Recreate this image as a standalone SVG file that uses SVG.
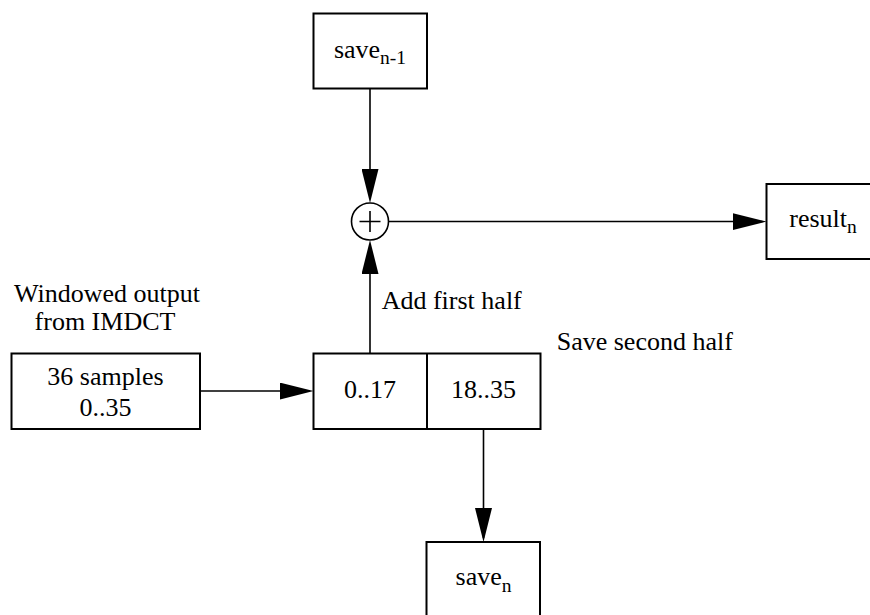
<svg xmlns="http://www.w3.org/2000/svg" width="870" height="615" viewBox="0 0 870 615">
  <style>
    .box { fill: #ffffff; stroke: #000000; stroke-width: 2; }
    .wire { fill: none; stroke: #000000; stroke-width: 1.6; }
    .lbl { font-size: 26px; fill: #000000; }
    .mid { text-anchor: middle; }
    .sub { font-size: 19.5px; }
  </style>
  <defs>
    <!-- filled arrowhead; the connector stops 4px short of the tip -->
    <marker id="head" markerUnits="userSpaceOnUse" markerWidth="34" markerHeight="17" refX="30" refY="8.5" orient="auto">
      <path d="M0,0 L34,8.5 L0,17 Z" fill="#000000"/>
    </marker>
  </defs>
  <rect width="870" height="615" fill="#ffffff"/>

  <g id="connectors">
    <line class="wire" x1="370" y1="88.5" x2="370" y2="199" marker-end="url(#head)"/>
    <line class="wire" x1="388.5" y1="221.5" x2="762.5" y2="221.5" marker-end="url(#head)"/>
    <line class="wire" x1="370" y1="353.5" x2="370" y2="244" marker-end="url(#head)"/>
    <line class="wire" x1="200" y1="391" x2="309.5" y2="391" marker-end="url(#head)"/>
    <line class="wire" x1="483.5" y1="429" x2="483.5" y2="538" marker-end="url(#head)"/>
  </g>

  <g font-family="'Liberation Serif', 'Times New Roman', Times, 'DejaVu Serif', serif">
    <g id="save-prev">
      <rect class="box" x="313.5" y="13.5" width="113.5" height="75"/>
      <text class="lbl mid" x="370" y="57.5">save<tspan class="sub" dy="6.5">n-1</tspan></text>
    </g>

    <g id="adder">
      <circle cx="370" cy="221.5" r="18.5" fill="#ffffff" stroke="#000000" stroke-width="1.6"/>
      <path d="M359.5,221.5 H380.5 M370,211 V232" stroke="#000000" stroke-width="1.6" fill="none"/>
    </g>

    <g id="result">
      <rect class="box" x="766.5" y="184" width="113.5" height="75"/>
      <text class="lbl mid" x="823" y="226.7">result<tspan class="sub" dy="6.5">n</tspan></text>
    </g>

    <g id="source">
      <text class="lbl mid" x="107" y="301.7">Windowed output</text>
      <text class="lbl mid" x="105" y="330">from IMDCT</text>
      <rect class="box" x="11.5" y="353.5" width="188.5" height="75.5"/>
      <text class="lbl mid" x="105.5" y="385">36 samples</text>
      <text class="lbl mid" x="105.5" y="416">0..35</text>
    </g>

    <g id="halves">
      <rect class="box" x="313.5" y="353.5" width="227" height="75.5"/>
      <line x1="427" y1="353.5" x2="427" y2="429" stroke="#000000" stroke-width="2"/>
      <text class="lbl mid" x="370" y="398.3">0..17</text>
      <text class="lbl mid" x="483.5" y="398.3">18..35</text>
    </g>

    <g id="labels">
      <text class="lbl" x="381.7" y="309.3">Add first half</text>
      <text class="lbl" x="556.7" y="350">Save second half</text>
    </g>

    <g id="save-next">
      <rect class="box" x="426.5" y="542" width="113.5" height="75"/>
      <text class="lbl mid" x="483.5" y="585">save<tspan class="sub" dy="6.5">n</tspan></text>
    </g>
  </g>
</svg>
